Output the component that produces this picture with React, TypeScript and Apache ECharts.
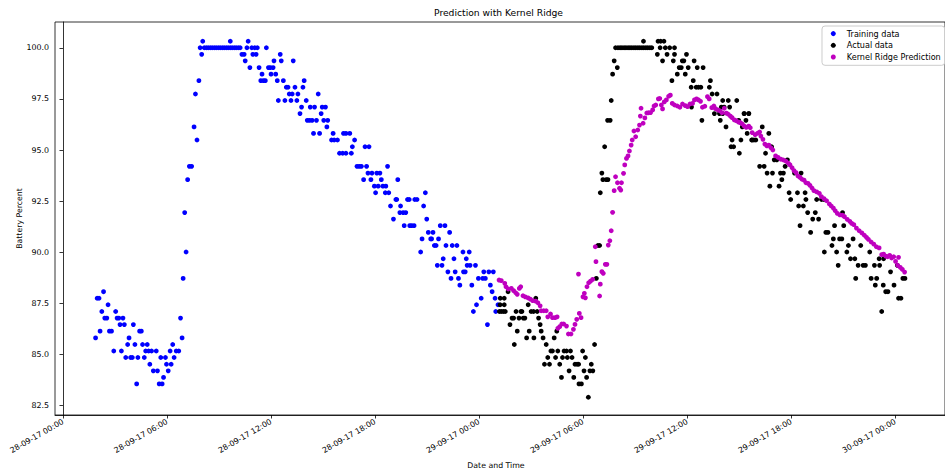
import React, { useEffect, useRef } from "react";
import * as echarts from "echarts";

// hours since 28-09-17 00:00
const BASE_TIME = Date.UTC(2017, 8, 28, 0, 0);
const xTickHours = [0, 6, 12, 18, 24, 30, 36, 42, 48];
const yTickValues = [82.5, 85, 87.5, 90, 92.5, 95, 97.5, 100];

const trainingData: [number, number][] = [
  [1.88,85.81],[1.97,87.75],[2.08,87.75],[2.14,86.14],[2.24,87.10],[2.34,88.07],[2.41,86.78],[2.53,86.78],[2.60,87.43],[2.68,86.14],[2.80,86.14],[2.93,85.17],[3.04,87.10],[3.12,86.78],[3.22,86.78],[3.29,86.46],[3.37,85.17],[3.46,86.78],[3.54,86.46],[3.62,84.85],[3.73,85.49],[3.81,85.81],[3.90,84.85],[4.00,84.85],[4.06,86.46],[4.15,85.49],[4.25,83.56],[4.32,84.85],[4.42,86.14],[4.52,86.14],[4.59,85.49],[4.69,84.85],[4.77,85.17],[4.86,85.49],[4.94,85.17],[5.01,84.52],[5.11,85.17],[5.21,84.20],[5.38,85.17],[5.45,84.20],[5.55,83.56],[5.64,84.85],[5.72,83.56],[5.80,83.88],[5.91,84.85],[5.97,84.52],[6.07,84.20],[6.18,85.17],[6.24,84.52],[6.33,85.49],[6.41,84.85],[6.53,85.17],[6.68,85.17],[6.78,86.78],[6.87,85.81],[6.93,88.72],[7.02,91.94],[7.10,90.01],[7.19,93.55],[7.29,94.20],[7.42,94.20],[7.56,96.13],[7.64,97.74],[7.73,95.49],[7.84,98.39],[7.91,100.00],[8.00,99.68],[8.06,100.32],
  [8.15,100],[8.27,100],[8.38,100],[8.50,100],[8.61,100],[8.73,100],[8.84,100],[8.96,100],[9.07,100],[9.19,100],[9.30,100],[9.42,100],[9.53,100],[9.65,100],[9.65,100.32],[9.76,100],[9.88,100],[9.99,100],[10.11,100],[10.22,100],
  [10.32,99.68],[10.45,99.68],[10.51,99.36],[10.61,100],[10.68,100.32],[10.78,99.03],[10.89,100],[10.95,99.68],[11.06,100],[11.14,99.68],[11.21,100],[11.31,99.03],[11.41,98.39],[11.48,98.71],[11.56,98.39],[11.67,98.39],[11.73,100],[11.85,99.03],[11.96,99.03],[12.00,98.71],[12.12,99.03],[12.17,99.36],[12.27,98.71],[12.36,98.39],[12.42,97.42],[12.53,99.68],[12.59,99.36],[12.71,98.39],[12.80,97.42],[12.88,98.07],[12.98,98.07],[13.05,97.74],[13.15,97.42],[13.22,97.74],[13.28,99.36],[13.38,98.07],[13.49,97.42],[13.55,97.74],[13.67,96.78],[13.76,97.10],[13.84,98.07],[13.91,98.39],[14.03,97.42],[14.09,96.45],[14.22,96.45],[14.26,97.10],[14.37,96.45],[14.45,95.81],[14.51,97.10],[14.62,96.45],[14.72,97.74],[14.80,95.81],[14.89,96.78],[14.95,97.10],[15.04,96.45],[15.14,97.10],[15.22,96.13],[15.27,96.45],
  [15.49,95.49],[15.58,95.81],[15.64,95.49],[15.83,95.49],[15.95,94.84],[16.13,94.84],[16.18,95.81],[16.32,95.81],[16.32,94.84],[16.54,95.81],[16.63,94.84],[16.69,95.16],[16.82,95.49],[16.96,94.20],[17.09,94.20],[17.21,94.20],[17.34,93.55],[17.42,95.16],[17.51,94.20],[17.59,93.87],[17.65,95.16],[17.76,93.55],[17.82,93.87],[17.96,93.23],[18.03,92.91],[18.10,93.87],[18.18,93.23],[18.28,93.87],[18.36,93.55],[18.45,93.23],[18.59,92.91],[18.62,93.23],[18.72,94.20],[18.79,92.91],[18.89,92.26],[19.06,91.62],[19.20,92.58],[19.25,92.58],[19.31,93.55],[19.43,91.94],[19.47,92.26],[19.62,91.94],[19.68,91.30],[19.77,91.94],[19.87,92.58],[19.97,92.58],[20.00,91.30],[20.11,91.30],[20.25,91.30],[20.29,92.58],[20.42,92.58],[20.63,90.01],[20.71,90.65],[20.80,92.26],[20.90,92.91],[20.98,91.62],[21.07,90.97],[21.21,90.65],[21.26,90.65],[21.34,90.97],[21.42,90.33],[21.52,90.33],[21.59,89.36],[21.66,90.65],[21.76,91.30],[21.86,89.36],[21.93,89.68],[22.03,91.30],[22.09,90.33],[22.20,89.04],[22.30,90.97],[22.38,88.72],[22.45,90.33],[22.55,89.68],[22.62,89.04],[22.72,90.33],[22.81,88.72],[22.89,88.39],[23.07,90.01],[23.10,89.04],[23.20,89.04],[23.26,89.68],[23.31,89.36],[23.43,90.01],[23.48,89.36],[23.58,88.39],[23.67,87.10],[23.79,89.36],[23.85,87.43],[23.96,88.72],[24.12,87.75],[24.21,88.72],[24.27,89.04],[24.36,88.72],[24.48,86.46],[24.56,89.04],[24.65,88.39],[24.75,88.07],[24.82,89.04],[24.92,87.75],[24.96,87.10],[25.09,87.43]
];

const actualData: [number, number][] = [
  [25.17,87.10],[25.21,87.43],[25.22,87.75],[25.28,87.10],[25.40,87.10],[25.45,87.75],[25.45,87.43],[25.51,87.10],[25.67,88.07],[25.78,86.46],[25.90,86.78],[25.99,86.78],[26.03,85.49],[26.13,87.10],[26.20,86.14],[26.30,86.78],[26.41,87.10],[26.47,87.10],[26.55,86.78],[26.64,86.78],[26.74,85.81],[26.83,87.43],[26.89,86.14],[27.00,87.10],[27.14,87.10],[27.16,85.81],[27.27,87.75],[27.35,87.10],[27.43,86.78],[27.52,86.46],[27.58,86.14],[27.69,85.81],[27.77,84.52],[27.87,85.49],[27.96,84.85],[28.06,84.52],[28.14,85.17],[28.23,85.17],[28.33,85.81],[28.41,84.85],[28.48,86.14],[28.54,85.17],[28.65,84.52],[28.75,83.88],[28.81,84.85],[28.90,85.17],[29.04,85.17],[29.09,84.85],[29.19,84.20],[29.27,85.17],[29.36,84.85],[29.46,83.88],[29.53,84.52],[29.65,84.52],[29.74,84.52],[29.76,83.56],[29.90,83.56],[29.97,85.17],[30.05,84.20],[30.13,84.85],[30.20,83.88],[30.30,82.91],[30.39,84.20],[30.47,84.52],[30.56,84.20],[30.66,85.49],[30.76,88.72],[30.85,90.33],[30.95,90.33],[30.99,92.91],[31.08,93.87],[31.14,93.55],[31.24,95.16],[31.33,93.55],[31.43,93.55],[31.41,96.45],[31.56,96.45],[31.62,97.42],[31.70,98.71],[31.79,99.36],[31.87,100.00],[31.97,99.03],
  [32.01,100],[32.13,100],[32.24,100],[32.36,100],[32.47,100],[32.59,100],[32.70,100],[32.81,100],[32.93,100],[33.04,100],[33.16,100],[33.27,100],[33.39,100],[33.50,100],[33.62,100],[33.73,100],[33.85,100],[33.96,100],[33.48,100.32],
  [34.28,99.68],[34.32,100.32],[34.44,100],[34.47,100.32],[34.58,99.36],[34.66,100.32],[34.74,100],[34.84,99.68],[34.99,100],[35.12,98.39],[35.20,99.36],[35.27,100],[35.27,99.68],[35.43,98.71],[35.54,99.03],[35.66,99.03],[35.72,99.36],[35.81,99.36],[35.89,98.71],[35.96,99.68],[36.06,99.03],[36.23,98.07],[36.25,97.10],[36.35,98.39],[36.40,99.36],[36.52,98.07],[36.58,99.03],[36.65,98.07],[36.79,98.07],[36.85,96.45],[36.92,99.03],[37.28,98.07],[37.34,98.39],[37.44,97.74],[37.57,96.78],[37.72,97.74],[37.86,96.78],[37.91,96.45],[37.97,97.10],[38.05,97.42],[38.05,96.78],[38.13,97.10],[38.24,96.13],[38.37,97.42],[38.45,97.10],[38.53,95.16],[38.59,95.49],[38.68,95.16],[38.86,97.42],[38.97,96.45],[39.01,94.84],[39.10,95.49],[39.18,96.13],[39.28,96.78],[39.29,96.78],[39.39,96.45],[39.46,95.81],[39.55,96.78],[39.56,96.78],[39.72,95.49],[39.75,95.49],[39.85,95.49],[39.96,95.49],[40.18,94.20],[40.33,96.13],[40.44,94.20],[40.52,94.84],[40.61,93.87],[40.71,95.81],[40.77,93.23],[40.87,95.16],[40.92,93.87],[41.02,94.52],[41.17,94.52],[41.30,93.23],[41.38,93.87],[41.46,93.55],[41.55,93.87],[41.65,94.20],[41.78,94.52],[41.88,92.91],[41.97,92.58],[42.19,93.87],[42.36,92.91],[42.43,92.26],[42.51,91.30],[42.57,93.87],[42.70,92.26],[42.80,92.91],[42.85,92.58],[42.95,91.94],[43.12,90.97],[43.24,91.62],[43.39,91.94],[43.47,92.58],[43.58,91.62],[43.75,92.58],[43.89,92.58],[43.91,90.01],[44.00,90.97],[44.12,90.97],[44.35,90.33],[44.43,90.65],[44.50,91.30],[44.62,90.01],[44.71,89.36],[44.79,90.65],[44.92,90.65],[44.96,91.94],[45.03,91.30],[45.21,90.01],[45.30,90.33],[45.42,89.68],[45.57,90.65],[45.67,89.68],[45.72,88.72],[45.86,89.36],[46.01,90.33],[46.15,89.36],[46.28,89.36],[46.53,90.01],[46.61,88.72],[46.80,89.36],[46.85,88.39],[46.93,88.72],[47.07,89.68],[47.10,89.36],[47.22,87.10],[47.31,88.39],[47.33,89.68],[47.45,88.07],[47.58,88.07],[47.73,89.04],[47.93,88.39],[48.12,89.36],[48.19,87.75],[48.33,87.75],[48.44,88.72],[48.56,88.72]
];

const predictionData: [number, number][] = [
  [25.15,88.64],[25.28,88.61],[25.48,88.48],[25.55,88.31],[25.68,88.20],[25.86,88.23],[25.99,88.12],[26.11,88.02],[26.20,87.94],[26.32,88.23],[26.40,88.31],[26.53,87.87],[26.66,87.82],[26.82,87.77],[26.95,87.71],[27.09,87.63],[27.26,87.61],[27.39,87.53],[27.52,87.38],[27.58,87.14],[27.73,87.14],[27.87,87.14],[27.96,86.84],[28.12,86.98],[28.23,86.80],[28.38,86.80],[28.50,86.84],[28.54,86.28],[28.65,86.36],[28.77,86.49],[28.88,86.49],[29.04,86.39],[29.15,86.00],[29.30,86.00],[29.44,86.23],[29.53,86.47],[29.63,86.72],[29.73,88.93],[29.78,87.01],[29.88,86.80],[29.99,87.82],[30.07,87.99],[30.13,87.77],[30.22,88.31],[30.32,88.51],[30.43,88.59],[30.55,88.67],[30.70,90.27],[30.74,89.54],[30.95,87.86],[30.99,88.44],[31.08,89.05],[31.16,88.97],[31.28,89.41],[31.37,89.41],[31.45,90.35],[31.54,90.56],[31.62,91.05],[31.70,91.95],[31.79,93.01],[31.87,93.69],[31.98,93.40],[32.10,93.13],[32.17,93.04],[32.21,93.40],[32.33,93.86],[32.40,94.27],[32.50,94.59],[32.59,94.71],[32.67,94.95],[32.77,95.24],[32.83,95.49],[32.93,95.93],[33.03,95.65],[33.15,95.98],[33.25,96.22],[33.30,96.66],[33.34,97.04],[33.46,96.31],[33.56,96.57],[33.67,96.81],[33.77,96.82],[33.89,96.83],[34.01,96.96],[34.09,97.15],[34.19,97.20],[34.34,97.50],[34.42,97.52],[34.51,97.20],[34.58,97.01],[34.68,97.35],[34.80,97.45],[34.93,97.63],[35.03,97.68],[35.14,97.28],[35.27,97.20],[35.43,97.15],[35.58,97.09],[35.73,97.25],[35.89,97.17],[36.02,97.12],[36.16,97.25],[36.31,97.28],[36.42,97.45],[36.54,97.50],[36.65,97.45],[36.77,97.38],[36.88,97.09],[37.02,97.14],[37.17,97.61],[37.27,97.50],[37.42,97.07],[37.54,97.15],[37.63,97.02],[37.77,96.96],[37.88,96.92],[38.01,96.82],[38.14,97.04],[38.26,96.80],[38.37,96.75],[38.49,96.66],[38.59,96.58],[38.72,96.47],[38.83,96.43],[38.97,96.36],[39.06,96.34],[39.18,96.27],[39.29,96.17],[39.41,96.11],[39.55,96.17],[39.64,96.09],[39.75,95.85],[39.92,95.75],[40.06,95.82],[40.18,95.88],[40.25,95.68],[40.37,95.52],[40.48,95.29],[40.60,95.20],[40.71,95.24],[40.83,95.11],[40.94,95.00],[41.10,94.71],[41.24,94.64],[41.40,94.55],[41.55,94.51],[41.70,94.45],[41.84,94.35],[41.93,94.27],[42.05,94.13],[42.16,93.99],[42.28,93.89],[42.39,93.73],[42.51,93.66],[42.62,93.57],[42.74,93.53],[42.85,93.40],[42.97,93.37],[43.08,93.27],[43.20,93.14],[43.31,93.01],[43.47,92.95],[43.62,92.88],[43.74,92.72],[43.89,92.62],[44.04,92.52],[44.20,92.36],[44.31,92.26],[44.43,92.16],[44.54,92.03],[44.66,91.90],[44.80,91.83],[44.96,91.81],[45.07,91.74],[45.23,91.61],[45.38,91.51],[45.49,91.41],[45.61,91.35],[45.76,91.18],[45.92,91.05],[46.07,90.95],[46.22,90.83],[46.34,90.73],[46.45,90.63],[46.61,90.50],[46.76,90.40],[46.91,90.27],[47.07,90.21],[47.22,89.88],[47.33,89.91],[47.45,89.81],[47.56,89.78],[47.68,89.85],[47.79,89.72],[47.91,89.78],[48.02,89.55],[48.14,89.36],[48.19,89.75],[48.29,89.26],[48.41,89.16],[48.54,89.03]
];

const FONT = "DejaVu Sans";

function formatHour(h: number): string {
  const d = new Date(BASE_TIME + Math.round(h * 3600000));
  const p = (n: number) => String(n).padStart(2, "0");
  return `${p(d.getUTCDate())}-${p(d.getUTCMonth() + 1)}-${p(d.getUTCFullYear() % 100)} ${p(d.getUTCHours())}:${p(d.getUTCMinutes())}`;
}

export default function App() {
  const ref = useRef<HTMLDivElement>(null);
  useEffect(() => {
    if (!ref.current) return;
    const chart = echarts.init(ref.current, undefined, { renderer: "svg" });
    const dot = 4.8;
    chart.setOption({
      animation: false,
      backgroundColor: "#ffffff",
      textStyle: { fontFamily: FONT },
      title: {
        text: "Prediction with Kernel Ridge",
        left: 429,
        top: 3,
        textStyle: { fontFamily: FONT, fontSize: 9.2, fontWeight: "normal", color: "#000" },
      },
      grid: {
        left: 55,
        top: 22,
        width: 894,
        height: 393,
        show: true,
        borderColor: "#000",
        borderWidth: 0.8,
      },
      legend: {
        orient: "vertical",
        left: 822,
        top: 26,
        padding: [2.6, 4, 3.3, 8.8],
        itemWidth: 17,
        itemHeight: 5,
        itemGap: 1.7,
        icon: "circle",
        borderColor: "#cccccc",
        borderWidth: 1,
        borderRadius: 3,
        backgroundColor: "rgba(255,255,255,0.8)",
        textStyle: { fontFamily: FONT, fontSize: 8.1, color: "#000", lineHeight: 10 },
        data: ["Training data", "Actual data", "Kernel Ridge Prediction"],
      },
      xAxis: {
        type: "value",
        min: -0.46,
        max: 50.87,
        name: "Date and Time",
        nameLocation: "middle",
        nameGap: 46,
        nameMoveOverlap: false,
        nameTextStyle: { fontFamily: FONT, fontSize: 7.8, color: "#000", padding: [0, 8, 0, 0] },
        axisLine: { show: true, lineStyle: { color: "#000", width: 0.8 } },
        axisTick: { show: true, customValues: xTickHours, length: 3.5, lineStyle: { color: "#000", width: 0.8 } },
        axisLabel: {
          customValues: xTickHours,
          rotate: 30,
          margin: 6,
          formatter: (v: number) => formatHour(v),
          fontFamily: FONT,
          fontSize: 7.8,
          color: "#000",
        },
        splitLine: { show: false },
      },
      yAxis: {
        type: "value",
        min: 82.04,
        max: 101.26,
        name: "Battery Percent",
        nameLocation: "middle",
        nameGap: 32,
        nameMoveOverlap: false,
        nameTextStyle: { fontFamily: FONT, fontSize: 7.8, color: "#000" },
        axisLine: { show: true, lineStyle: { color: "#000", width: 0.8 } },
        axisTick: { show: true, customValues: yTickValues, length: 3.5, lineStyle: { color: "#000", width: 0.8 } },
        axisLabel: {
          customValues: yTickValues,
          margin: 6,
          formatter: (v: number) => v.toFixed(1),
          fontFamily: FONT,
          fontSize: 7.9,
          color: "#000",
        },
        splitLine: { show: false },
      },
      series: [
        { name: "Training data", type: "scatter", data: trainingData, symbolSize: dot, itemStyle: { color: "#0000ff", opacity: 1 } },
        { name: "Actual data", type: "scatter", data: actualData, symbolSize: dot, itemStyle: { color: "#000000", opacity: 1 } },
        { name: "Kernel Ridge Prediction", type: "scatter", data: predictionData, symbolSize: dot, itemStyle: { color: "#bf00bf", opacity: 1 } },
      ],
    });
    return () => chart.dispose();
  }, []);
  return <div ref={ref} style={{ position: "absolute", left: 0, top: 0, width: 945, height: 474 }} />;
}
